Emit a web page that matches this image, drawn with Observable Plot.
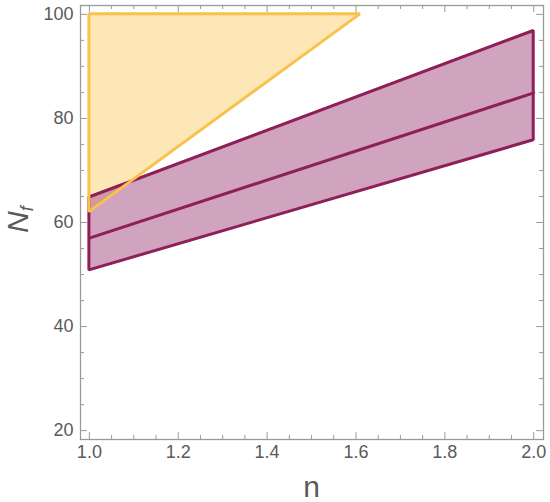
<!DOCTYPE html>
<html>
<head>
<meta charset="utf-8">
<script src="https://cdn.jsdelivr.net/npm/d3@7"></script>
<script src="https://cdn.jsdelivr.net/npm/@observablehq/plot@0.6"></script>
<style>
  html, body { margin: 0; padding: 0; background: #fff; }
</style>
</head>
<body>
<div id="chart"></div>
<script>
// ---- data ----
const bandN = [1.0, 2.0];
const bandUpper = [64.8, 96.8];
const bandCentral = [57.0, 84.9];
const bandLower = [50.8, 75.8];

const triN = [1.0, 1.61];
const triLower = [62.0, 100.0];
const triUpper = [100.0, 100.0];

const xMajor = [1.0, 1.2, 1.4, 1.6, 1.8, 2.0];
const xMinor = [1.05, 1.1, 1.15, 1.25, 1.3, 1.35, 1.45, 1.5, 1.55, 1.65, 1.7, 1.75, 1.85, 1.9, 1.95];
const yMajor = [20, 40, 60, 80, 100];
const yMinor = [25, 30, 35, 45, 50, 55, 65, 70, 75, 85, 90, 95];

const band = bandN.map((n, i) => ({n, lo: bandLower[i], hi: bandUpper[i], mid: bandCentral[i]}));
const tri = triN.map((n, i) => ({n, lo: triLower[i], hi: triUpper[i]}));

const W = 550, H = 502;
const mL = 80, mR = 7, mT = 5, mB = 63;
const PW = W - mL - mR, PH = H - mT - mB;
const frameColor = "#9a9a9a";
const purple = "#8e1f58";
const yellow = "#f8c24c";
const font = "Liberation Sans, Arial, sans-serif";

const plot = Plot.plot({
  width: W,
  height: H,
  marginLeft: mL,
  marginRight: mR,
  marginTop: mT,
  marginBottom: mB,
  x: {domain: [0.98, 2.022]},
  y: {domain: [18.3, 101.7]},
  style: {fontFamily: font, fontSize: "18px", color: "#5a5a5a", background: "#fff"},
  marks: [
    Plot.areaY(tri, {x: "n", y1: "lo", y2: "hi", fill: "#fbc95d", fillOpacity: 0.45}),
    Plot.areaY(band, {x: "n", y1: "lo", y2: "hi", fill: "#b06594", fillOpacity: 0.6}),
    Plot.areaY(band, {x: "n", y1: "lo", y2: "hi", fill: "none", stroke: purple, strokeWidth: 3, strokeLinejoin: "miter"}),
    Plot.line(band, {x: "n", y: "mid", stroke: purple, strokeWidth: 3}),
    Plot.areaY(tri, {x: "n", y1: "lo", y2: "hi", fill: "none", stroke: yellow, strokeWidth: 3, strokeLinejoin: "miter"}),
    Plot.frame({stroke: frameColor, strokeWidth: 1.3}),
    // inward ticks
    Plot.tickX(xMajor, {x: d => d, insetTop: PH - 7, stroke: frameColor}),
    Plot.tickX(xMajor, {x: d => d, insetBottom: PH - 7, stroke: frameColor}),
    Plot.tickX(xMinor, {x: d => d, insetTop: PH - 4, stroke: frameColor}),
    Plot.tickX(xMinor, {x: d => d, insetBottom: PH - 4, stroke: frameColor}),
    Plot.tickY(yMajor, {y: d => d, insetRight: PW - 7, stroke: frameColor}),
    Plot.tickY(yMajor, {y: d => d, insetLeft: PW - 7, stroke: frameColor}),
    Plot.tickY(yMinor, {y: d => d, insetRight: PW - 4, stroke: frameColor}),
    Plot.tickY(yMinor, {y: d => d, insetLeft: PW - 4, stroke: frameColor}),
    Plot.axisX(xMajor, {tickSize: 0, tickPadding: 6, tickFormat: d => d.toFixed(1), label: null, fontSize: 18}),
    Plot.axisY(yMajor, {tickSize: 0, tickPadding: 7, label: null, fontSize: 18})
  ]
});

document.getElementById("chart").appendChild(plot);

// axis titles
const svg = d3.select(plot);
svg.append("text")
  .attr("x", (mL + W - mR) / 2)
  .attr("y", 497)
  .attr("text-anchor", "middle")
  .attr("font-family", font)
  .attr("font-size", 30)
  .attr("fill", "#5a5a5a")
  .text("n");

const yl = svg.append("text")
  .attr("transform", "translate(28,233) rotate(-90)")
  .attr("text-anchor", "start")
  .attr("font-family", font)
  .attr("font-size", 30)
  .attr("font-style", "italic")
  .attr("fill", "#5a5a5a");
yl.append("tspan").text("N");
yl.append("tspan").attr("font-size", 18).attr("dy", 5).text("f");
</script>
</body>
</html>
